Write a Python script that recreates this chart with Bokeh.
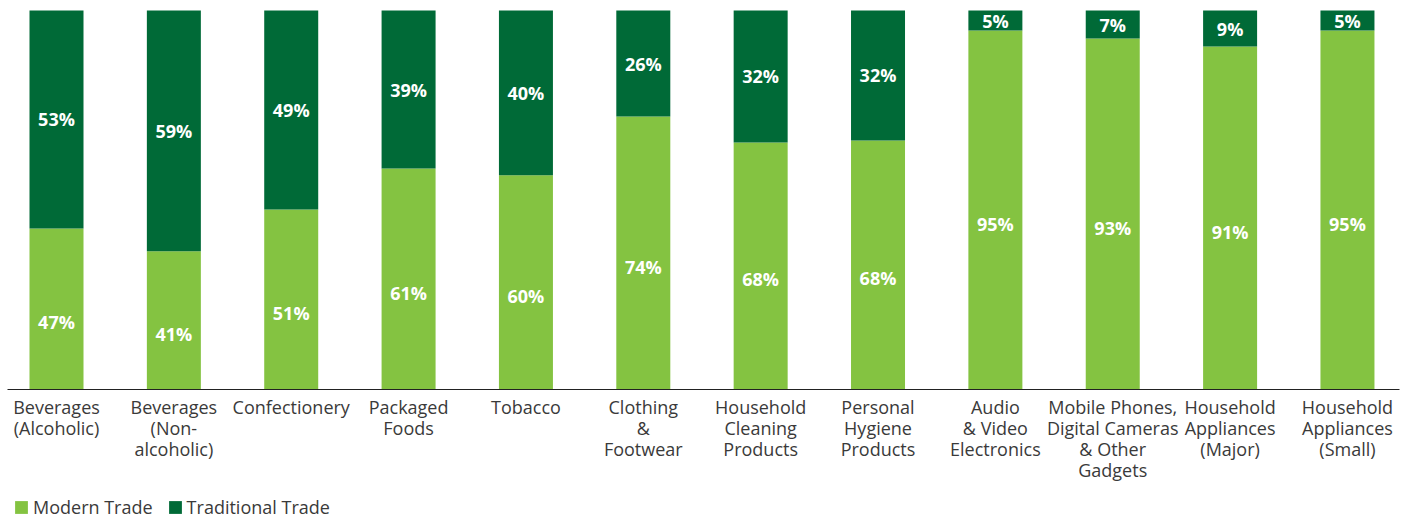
from bokeh.plotting import figure
from bokeh.models import Range1d, ColumnDataSource, Legend, LegendItem
from bokeh.core.properties import value
from bokeh.embed import file_html
from bokeh.resources import INLINE

categories = ["Beverages\n(Alcoholic)", "Beverages\n(Non-\nalcoholic)", "Confectionery",
              "Packaged\nFoods", "Tobacco", "Clothing\n&\nFootwear",
              "Household\nCleaning\nProducts", "Personal\nHygiene\nProducts",
              "Audio\n& Video\nElectronics", "Mobile Phones,\nDigital Cameras\n& Other\nGadgets",
              "Household\nAppliances\n(Major)", "Household\nAppliances\n(Small)"]
# printed shares
modern_labels = [47, 41, 51, 61, 60, 74, 68, 68, 95, 93, 91, 95]
traditional_labels = [53, 59, 49, 39, 40, 26, 32, 32, 5, 7, 9, 5]
# segment heights as drawn in the picture (share of full bar)
modern_bar = [42.5, 36.5, 47.5, 58.3, 56.5, 72.0, 65.2, 65.7, 94.7, 92.6, 90.5, 94.7]
traditional_bar = [57.5, 63.5, 52.5, 41.7, 43.5, 28.0, 34.8, 34.3, 5.3, 7.4, 9.5, 5.3]
series_names = ["Modern Trade", "Traditional Trade"]

LIGHT = "#84C341"
DARK = "#006A37"
FONT = "Open Sans"
TEXT = "#3a3a3a"

W, H = 1413, 519
x0_px, pitch = 56.0, 117.36
base_px, top_px = 389.0, 10.0
upp = 100.0 / (base_px - top_px)

xs = list(range(len(categories)))
src = ColumnDataSource(dict(
    x=xs, cat=categories, modern=modern_bar, traditional=traditional_bar,
    mlab=[f"{v}%" for v in modern_labels], tlab=[f"{v}%" for v in traditional_labels],
    my=[m / 2 - 13.5 * upp for m in modern_bar],
    ty=[m + t / 2 for m, t in zip(modern_bar, traditional_bar)],
))

p = figure(width=W, height=H, output_backend="svg", toolbar_location=None,
           min_border=0, min_border_left=0, min_border_right=0,
           min_border_top=0, min_border_bottom=0,
           x_range=Range1d(-x0_px / pitch, (W - x0_px) / pitch),
           y_range=Range1d(-(H - base_px) * upp, base_px * upp))
p.xaxis.visible = False
p.yaxis.visible = False
p.xgrid.visible = False
p.ygrid.visible = False
p.outline_line_color = None

rs = p.vbar_stack(["modern", "traditional"], x="x", width=54 / pitch, source=src,
                  color=[LIGHT, DARK], line_color=None)

p.segment(x0=[(7 - x0_px) / pitch], y0=[0], x1=[(1399 - x0_px) / pitch], y1=[0],
          line_color="#222222", line_width=1.2)

p.text(x="x", y="my", text="mlab", source=src, text_align="center", text_baseline="middle",
       text_color="white", text_font=value(FONT), text_font_style="bold", text_font_size="18px")
p.text(x="x", y="ty", text="tlab", source=src, text_align="center", text_baseline="middle",
       text_color="white", text_font=value(FONT), text_font_style="bold", text_font_size="18px")

p.text(x="x", y=-(394 - base_px) * upp, text="cat", source=src, text_align="center",
       text_baseline="top", text_color=TEXT, text_font=value(FONT),
       text_font_size="18px", text_line_height=0.88)

legend = Legend(items=[LegendItem(label=series_names[0], renderers=[rs[0]]),
                       LegendItem(label=series_names[1], renderers=[rs[1]])],
                orientation="horizontal", location=(13, 0),
                border_line_color=None, background_fill_alpha=0,
                padding=0, margin=0, spacing=14, label_standoff=4,
                glyph_width=16, glyph_height=16, label_height=16,
                label_text_font=FONT, label_text_font_size="18px",
                label_text_color=TEXT)
p.add_layout(legend)

open("out.html", "w").write(file_html(p, INLINE))
